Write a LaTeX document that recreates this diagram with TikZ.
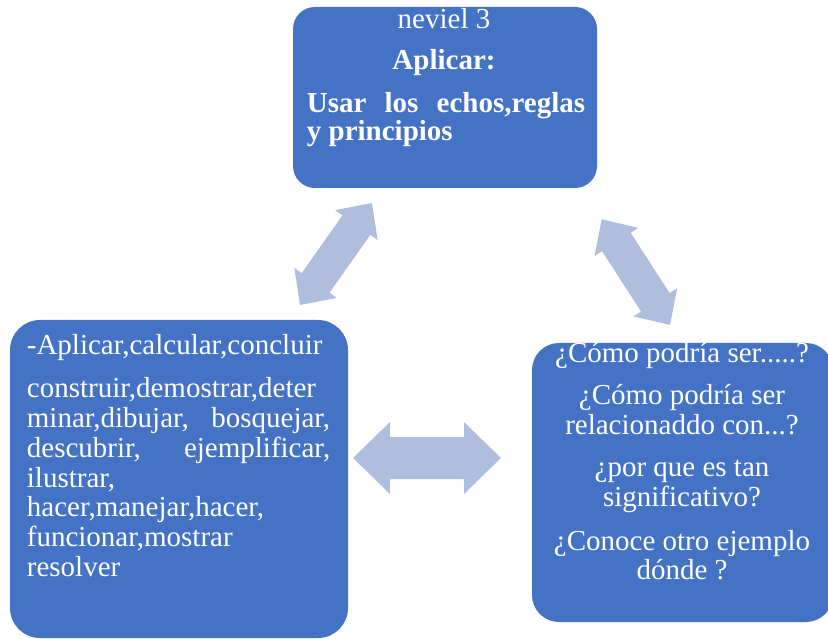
\documentclass[tikz,border=0pt]{standalone}
\usepackage{fontspec}
\setmainfont{Liberation Serif}
\definecolor{boxblue}{RGB}{68,114,196}
\definecolor{arrowblue}{RGB}{176,190,222}
\newcommand\dblarrow[7]{%
  \begin{scope}[shift={(#1,#2)},rotate=#3]
    \fill[arrowfill] (0,0) -- (#5,#6) -- (#5,#7) -- ({#4-#5},#7) -- ({#4-#5},#6) -- (#4,0)
      -- ({#4-#5},-#6) -- ({#4-#5},-#7) -- (#5,-#7) -- (#5,-#6) -- cycle;
  \end{scope}}
\begin{document}
\begin{tikzpicture}[x=1pt,y=-1pt,
  box/.style={fill=boxblue, draw=none},
  arrowfill/.style={fill=arrowblue},
  txt/.style={inner sep=0pt, text=white, font=\fontsize{29}{30}\selectfont},
  ltxt/.style={txt, anchor=base west},
  ctxt/.style={txt, anchor=base}]
\useasboundingbox (0,0) rectangle (828,639);
% boxes
\fill[box, rounded corners=22pt] (293,7) rectangle (597,188);
\node[coordinate] (top) at (445,97) {};
\fill[box, rounded corners=30pt] (10,320) rectangle (348,638);
\node[coordinate] (left) at (179,479) {};
\fill[box, rounded corners=27pt] (532,343) rectangle (833,622);
\node[coordinate] (right) at (682,482) {};
% arrows
\dblarrow{300}{305}{54.78}{124.8}{27}{26}{17}
\dblarrow{601.7}{219.3}{-57.13}{125.8}{27}{26}{17}
\dblarrow{353}{458}{0}{148}{37}{36}{21}
% top box text
\node[ctxt] (t1) at (444,28.3) {neviel 3};
\node[ctxt, font=\fontsize{29}{30}\selectfont\bfseries] (t2) at (444,70) {Aplicar:};
\node[ltxt, font=\fontsize{29}{30}\selectfont\bfseries] (t3) at (306.7,112.7) {\hbox to 278.3pt{Usar\hfill los\hfill echos,reglas}};
\node[ltxt, font=\fontsize{29}{30}\selectfont\bfseries] (t4) at (306.7,140.5) {y principios};
% left box text
\node[ltxt] (l1) at (26.7,355) {-Aplicar,calcular,concluir};
\node[ltxt] (l2) at (26.7,397.5) {construir,demostrar,deter};
\node[ltxt] (l3) at (26.7,427.5) {\hbox to 303.3pt{minar,dibujar,\hfill bosquejar,}};
\node[ltxt] (l4) at (26.7,457.5) {\hbox to 303.3pt{descubrir,\hfill ejemplificar,}};
\node[ltxt] (l5) at (26.7,487) {ilustrar,};
\node[ltxt] (l6) at (26.7,516.8) {hacer,manejar,hacer,};
\node[ltxt] (l7) at (26.7,546.8) {funcionar,mostrar};
\node[ltxt] (l8) at (26.7,576.7) {resolver};
% right box text
\node[ctxt] (r1) at (682,362.3) {¿Cómo podría ser.....?};
\node[ctxt] (r2) at (682,404) {¿Cómo podría ser};
\node[ctxt] (r3) at (682,434) {relacionaddo con...?};
\node[ctxt] (r4) at (682,476.7) {¿por que es tan};
\node[ctxt] (r5) at (682,506) {significativo?};
\node[ctxt] (r6) at (682,550) {¿Conoce otro ejemplo};
\node[ctxt] (r7) at (682,579.3) {dónde ?};
\end{tikzpicture}
\end{document}
